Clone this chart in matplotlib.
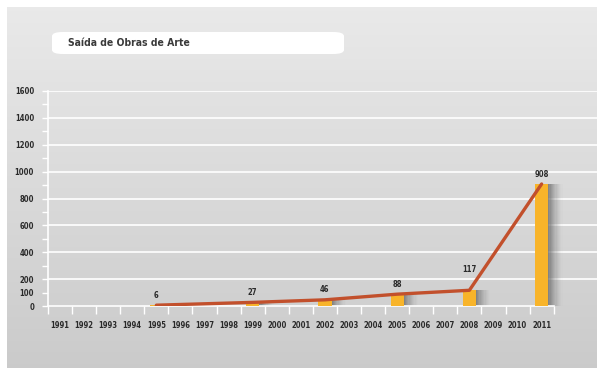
import matplotlib
matplotlib.use("Agg")
import matplotlib.pyplot as plt
import numpy as np
from matplotlib.patches import FancyBboxPatch

years = [str(y) for y in range(1991, 2012)]
bar_years = ["1995", "1999", "2002", "2005", "2008", "2011"]
bar_values = [6, 27, 46, 88, 117, 908]
value_labels = ["6", "27", "46", "88", "117", "908"]
ytick_values = [0, 100, 200, 400, 600, 800, 1000, 1200, 1400, 1600]
grid_values = [200, 400, 600, 800, 1000, 1200, 1400, 1600]
minor_values = [300, 500, 700, 900, 1100, 1300, 1500]
title = "Saída de Obras de Arte"

W, H = 598, 369
fig = plt.figure(figsize=(W / 100, H / 100), dpi=100)
fig.patch.set_facecolor("white")

FONT = ["DejaVu Sans"]
STRETCH = "condensed"

# background panel with vertical gradient
bg = fig.add_axes([7 / W, 1 - 368 / H, 590 / W, 361 / H])
grad = np.linspace(0, 1, 256).reshape(-1, 1)
top = np.array([0.915, 0.915, 0.915])
bot = np.array([0.795, 0.795, 0.795])
img = top[None, None, :] * (1 - grad[:, :, None]) + bot[None, None, :] * grad[:, :, None]
bg.imshow(img, aspect="auto", extent=[0, 1, 0, 1], origin="upper")
bg.set_xlim(0, 1)
bg.set_ylim(0, 1)
bg.axis("off")

# title pill
pill = FancyBboxPatch((52 / W, 1 - 54 / H), 292 / W, 22 / H,
                      boxstyle="round,pad=0,rounding_size=0.018",
                      transform=fig.transFigure, facecolor="white",
                      edgecolor="none", zorder=5, mutation_aspect=H / W)
fig.patches.append(pill)
fig.text(68 / W, 1 - 43 / H, title, fontsize=7.5, fontweight="bold",
         color="#3a3a3a", va="center", ha="left", family=FONT,
         fontstretch=STRETCH, zorder=6)

ax = fig.add_axes([48 / W, 1 - 306 / H, 549 / W, 215 / H])
ax.patch.set_alpha(0)
x = np.arange(len(years))
xpos = [years.index(y) for y in bar_years]

ax.set_xlim(-0.5, 22.3)
ax.set_ylim(0, 1600)

for g in grid_values:
    ax.axhline(g, color="white", lw=1.2, zorder=1)

# soft shadows to the right of each bar
for k in range(12):
    off = 0.27 + k * 0.05
    ax.bar([p + off + 0.025 for p in xpos], bar_values, width=0.05,
           color="#707070", alpha=0.8 * (1 - k / 12) ** 1.5,
           zorder=2, linewidth=0)

ax.bar(xpos, bar_values, width=0.55, color="#f8b42a", zorder=3, linewidth=0)
ax.plot(xpos, bar_values, color="#c2502c", lw=2.4, zorder=4,
        solid_capstyle="round")

for p, v, lab in zip(xpos, bar_values, value_labels):
    off = 120 if lab == "117" else 40
    ax.text(p, v + off, lab, ha="center", va="bottom", fontsize=5.5,
            fontweight="bold", color="#2a2a2a", family=FONT,
            fontstretch=STRETCH, zorder=5)

for s in ["top", "right"]:
    ax.spines[s].set_visible(False)
ax.spines["left"].set_color("white")
ax.spines["bottom"].set_color("white")
ax.spines["left"].set_linewidth(1.2)
ax.spines["bottom"].set_linewidth(1.2)
ax.spines["bottom"].set_bounds(-0.5, 20.5)

ax.set_yticks(ytick_values)
ax.set_yticklabels([str(v) for v in ytick_values], fontsize=5.5,
                   fontweight="bold", color="#2a2a2a", family=FONT,
                   fontstretch=STRETCH)
ax.set_yticks(minor_values, minor=True)
ax.tick_params(axis="y", which="major", length=4, color="white", width=1, pad=6)
ax.tick_params(axis="y", which="minor", length=4, color="white", width=1)

ax.set_xticks(np.arange(-0.5, 21, 1))
ax.set_xticklabels([])
ax.tick_params(axis="x", which="major", length=6, color="white", width=1)
ax.set_xticks(x, minor=True)
ax.set_xticklabels(years, minor=True, fontsize=5.5, fontweight="bold",
                   color="#2a2a2a", family=FONT, fontstretch=STRETCH)
ax.tick_params(axis="x", which="minor", length=0, pad=11)

fig.savefig("out.png", dpi=100, facecolor="white")
